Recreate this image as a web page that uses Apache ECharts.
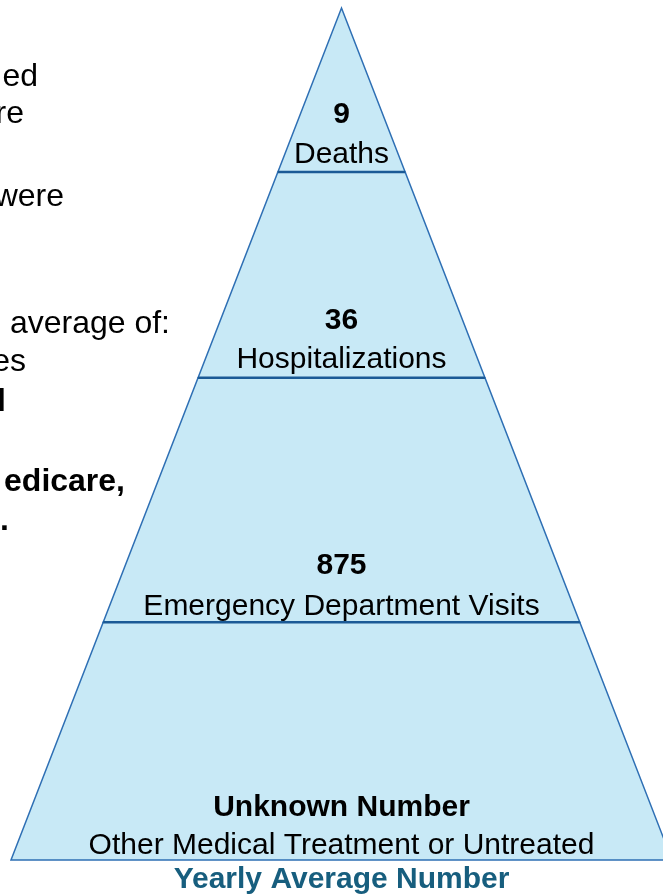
<!DOCTYPE html>
<html>
<head>
<meta charset="utf-8">
<script src="https://cdn.jsdelivr.net/npm/echarts@6/dist/echarts.min.js"></script>
<style>
html,body{margin:0;padding:0;background:#fff;}
#chart{width:663px;height:895px;}
</style>
</head>
<body>
<div id="chart"></div>
<script>
// Tiers ordered from base to apex
const tierValues = [null, 875, 36, 9];
const tierNames = ['Other Medical Treatment or Untreated', 'Emergency Department Visits', 'Hospitalizations', 'Deaths'];
const unknownLabel = 'Unknown Number';
// tier boundaries as fraction of pyramid height (0 = base, 1 = apex)
const tierBottoms = [0, 0.279, 0.566, 0.8075];
const tierTops = [0.279, 0.566, 0.8075, 1];
const axisTitle = 'Yearly Average Number';
// clipped text box at left edge of slide
const sideText = ['ed', 're', 'were', 'average of:', 'es', 'l', 'edicare,', '.'];
const sideBold = [false, false, false, false, false, true, true, true];

// ---- layout (pixels) ----
const FONT = 'Arial, "Liberation Sans", Helvetica, sans-serif';
const sideRight = [38, 24, 64, 170, 26, 6, 125, 9];
const sideBase = [85, 122, 205, 332, 370, 410, 490, 529];
const numberLift = [52, 57, 57, 57];
const nameLift = [14, 16, 18, 17];

const chart = echarts.init(document.getElementById('chart'), null, {renderer: 'canvas'});

const data = tierValues.map((v, i) => [tierBottoms[i], tierTops[i], i]);

function renderItem(params, api) {
  const b = api.value(0), t = api.value(1), i = api.value(2);
  const p1 = api.coord([-(1 - b), b]);
  const p2 = api.coord([(1 - b), b]);
  const p3 = api.coord([(1 - t), t]);
  const p4 = api.coord([-(1 - t), t]);
  const c = api.coord([0, b]);
  const children = [{
    type: 'polygon',
    shape: {points: [p1, p2, p3, p4]},
    style: {fill: '#c8e9f6', stroke: '#2e6fb4', lineWidth: 1.5}
  }];
  if (b > 0) {
    children.push({
      type: 'line',
      shape: {x1: p1[0], y1: p1[1], x2: p2[0], y2: p2[1]},
      style: {stroke: '#1b5a96', lineWidth: 2.5}
    });
  }
  const v = tierValues[i];
  children.push({
    type: 'text',
    style: {
      text: v == null ? unknownLabel : String(v),
      x: c[0], y: c[1] - numberLift[i],
      align: 'center', verticalAlign: 'middle',
      fontSize: 30, fontWeight: 'bold', fontFamily: FONT, fill: '#000'
    }
  });
  children.push({
    type: 'text',
    style: {
      text: tierNames[i],
      x: c[0], y: c[1] - nameLift[i],
      align: 'center', verticalAlign: 'middle',
      fontSize: 30, fontFamily: FONT, fill: '#000'
    }
  });
  return {type: 'group', children: children};
}

const graphics = sideText.map((s, i) => ({
  type: 'text',
  style: {
    text: s, x: sideRight[i], y: sideBase[i] - 8,
    align: 'right', verticalAlign: 'middle',
    fontSize: 32, fontWeight: sideBold[i] ? 'bold' : 'normal',
    fontFamily: FONT, fill: '#000'
  }
}));

chart.setOption({
  animation: false,
  backgroundColor: '#fff',
  grid: {left: 11, right: -9, top: 8, bottom: 35, outerBoundsMode: 'none', containLabel: false},
  xAxis: {
    type: 'value', min: -1, max: 1,
    name: axisTitle, nameLocation: 'middle', nameGap: 5,
    nameTextStyle: {fontSize: 30, fontWeight: 'bold', color: '#175e7e', fontFamily: FONT},
    axisLine: {show: false}, axisTick: {show: false}, axisLabel: {show: false}, splitLine: {show: false}
  },
  yAxis: {
    type: 'value', min: 0, max: 1,
    axisLine: {show: false}, axisTick: {show: false}, axisLabel: {show: false}, splitLine: {show: false}
  },
  graphic: graphics,
  series: [{
    type: 'custom',
    renderItem: renderItem,
    data: data,
    clip: false
  }]
});
</script>
</body>
</html>
